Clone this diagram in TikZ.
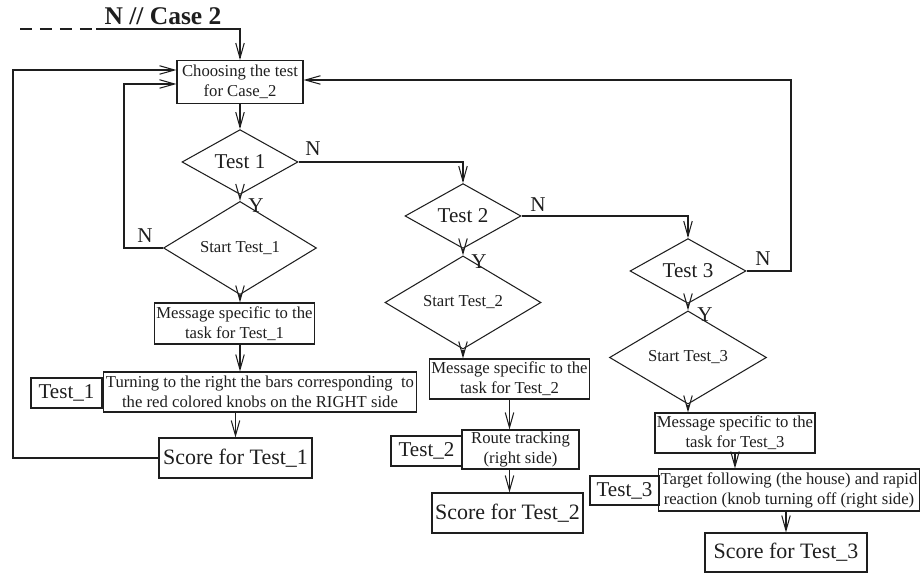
\documentclass[tikz,border=0pt]{standalone}
\usepackage{fontspec}
\setmainfont{Liberation Serif}
\usetikzlibrary{arrows.meta,shapes.geometric}
\definecolor{ink}{HTML}{1E1E1E}
\tikzset{
  >={Straight Barb[length=3mm,width=1.7mm]},
  every node/.style={text=ink},
  box/.style={draw=ink,line width=0.6pt,align=center,inner sep=1pt,font=\fontsize{9.5}{11.4}\selectfont},
  scorebox/.style={box,font=\fontsize{12.5}{14}\selectfont},
  tagbox/.style={box,font=\fontsize{12}{14}\selectfont},
  decision/.style={diamond,draw=ink,line width=0.6pt,inner sep=0pt,font=\fontsize{12}{14}\selectfont},
  startdec/.style={decision,font=\fontsize{9.5}{11}\selectfont},
  yn/.style={font=\fontsize{12}{14}\selectfont,inner sep=0pt},
  arrow/.style={->,line width=0.6pt,draw=ink},
  flow/.style={line width=0.6pt,draw=ink}
}

\begin{document}
\begin{tikzpicture}[x=0.02cm,y=-0.02cm]
  \useasboundingbox (0,0) rectangle (921,573);
  % entry
  \node[font=\fontsize{14.5}{17}\bfseries\selectfont] (title) at (163,16) {N // Case 2};
  \coordinate (feedA) at (20,29);
  \coordinate (feedB) at (96,29);
  \node[box,minimum width=2.52cm,minimum height=0.86cm] (choose) at (240,82) {Choosing the test\\for Case\_2};

  % Test 1 branch
  \node[decision,minimum width=2.32cm,minimum height=1.2cm] (test1) at (240,162) {Test 1};
  \node[startdec,minimum width=3.06cm,minimum height=1.2cm] (start1) at (240,248) {Start Test\_1};
  \node[box,minimum width=3.14cm,minimum height=0.82cm] (msg1) at (234.5,323.5) {Message specific to the\\task for Test\_1};
  \node[box,minimum width=6.28cm,minimum height=0.8cm] (turn1) at (260,392) {Turning to the right the bars corresponding\ \ to\\the red colored knobs on the RIGHT side};
  \node[tagbox,minimum width=1.42cm,minimum height=0.6cm] (tag1) at (66.5,393) {Test\_1};
  \node[scorebox,minimum width=3.06cm,minimum height=0.8cm] (score1) at (235.5,458) {Score for Test\_1};

  % Test 2 branch
  \node[decision,minimum width=2.32cm,minimum height=1.14cm] (test2) at (463,216) {Test 2};
  \node[startdec,minimum width=3.12cm,minimum height=1.18cm] (start2) at (463,302.5) {Start Test\_2};
  \node[box,minimum width=3.1cm,minimum height=0.8cm] (msg2) at (509.5,379) {Message specific to the\\task for Test\_2};
  \node[box,minimum width=2.34cm,minimum height=0.78cm] (route) at (520.5,449.5) {Route tracking\\(right side)};
  \node[tagbox,minimum width=1.42cm,minimum height=0.6cm] (tag2) at (426.5,451) {Test\_2};
  \node[scorebox,minimum width=3.02cm,minimum height=0.8cm] (score2) at (507.5,513) {Score for Test\_2};

  % Test 3 branch
  \node[decision,minimum width=2.32cm,minimum height=1.12cm] (test3) at (688,271) {Test 3};
  \node[startdec,minimum width=3.14cm,minimum height=1.18cm] (start3) at (688,357.5) {Start Test\_3};
  \node[box,minimum width=3.2cm,minimum height=0.8cm] (msg3) at (735,433) {Message specific to the\\task for Test\_3};
  \node[box,minimum width=5.16cm,minimum height=0.84cm] (target) at (789,490) {Target following (the house) and rapid\\reaction (knob turning off (right side)};
  \node[tagbox,minimum width=1.38cm,minimum height=0.58cm] (tag3) at (624.5,490.5) {Test\_3};
  \node[scorebox,minimum width=3.24cm,minimum height=0.78cm] (score3) at (786,552.5) {Score for Test\_3};

  % Y / N marks
  \node[yn] (n1) at (313,149) {N};
  \node[yn] (y1) at (256,206) {Y};
  \node[yn] (n1b) at (145,236) {N};
  \node[yn] (n2) at (538,205) {N};
  \node[yn] (y2) at (479,262) {Y};
  \node[yn] (n3) at (763,259) {N};
  \node[yn] (y3) at (705,315) {Y};

  \coordinate (loopout) at (13,458);
  \coordinate (loopin) at (124,248);
  \coordinate (loopright) at (791,271);

  % connectors
  \draw[flow,dash pattern=on 2.4mm off 1.6mm] (feedA) -- (feedB);
  \draw[arrow] (feedB) -| (choose.north);
  \draw[arrow] (choose.south) -- (test1.north);
  \draw[arrow] (test1.south) -- (start1.north);
  \draw[arrow] (start1.south) -- (start1.south |- msg1.north);
  \draw[arrow] (start1.south |- msg1.south) -- (start1.south |- turn1.north);
  \draw[arrow] (score1.north |- turn1.south) -- (score1.north);
  \draw[arrow] (score1.west) -- (loopout) |- ([yshift=0.24cm]choose.west);
  \draw[arrow] (start1.west) -- (loopin) |- ([yshift=-0.04cm]choose.west);
  \draw[arrow] (test1.east) -| (test2.north);

  \draw[arrow] (test2.south) -- (start2.north);
  \draw[arrow] (start2.south) -- (start2.south |- msg2.north);
  \draw[arrow] (msg2.south) -- (msg2.south |- route.north);
  \draw[arrow] (msg2.south |- route.south) -- (msg2.south |- score2.north);
  \draw[arrow] (test2.east) -| (test3.north);

  \draw[arrow] (test3.south) -- (start3.north);
  \draw[arrow] (start3.south) -- (start3.south |- msg3.north);
  \draw[arrow] (msg3.south) -- (msg3.south |- target.north);
  \draw[arrow] (score3.north |- target.south) -- (score3.north);
  \draw[arrow] (test3.east) -- (loopright) |- ([yshift=0.04cm]choose.east);
\end{tikzpicture}
\end{document}
